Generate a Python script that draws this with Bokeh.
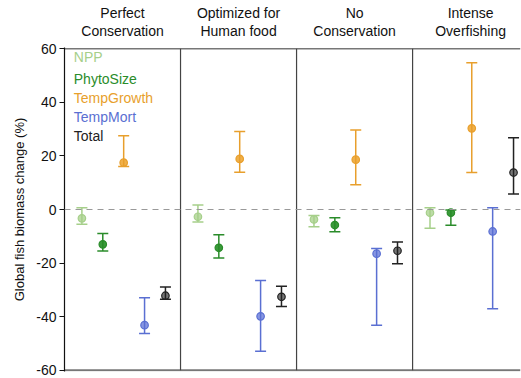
from bokeh.plotting import figure
from bokeh.layouts import column
from bokeh.models import Range1d, ColumnDataSource, Whisker, TeeHead, Span, FixedTicker
from bokeh.core.properties import value
from bokeh.embed import file_html
from bokeh.resources import INLINE

scenarios = [["Perfect", "Conservation"], ["Optimized for", "Human food"],
             ["No", "Conservation"], ["Intense", "Overfishing"]]
series = ["NPP", "PhytoSize", "TempGrowth", "TempMort", "Total"]

# values per series across the 4 scenarios: mean, upper, lower
npp_mid = [-3.3, -2.7, -3.7, -1.2]
npp_hi = [0.7, 1.7, -2.2, 0.7]
npp_lo = [-5.5, -4.7, -6.4, -7.0]

phyto_mid = [-13.0, -14.3, -5.8, -1.2]
phyto_hi = [-9.0, -9.4, -3.1, -0.2]
phyto_lo = [-15.5, -18.1, -8.3, -5.9]

tg_mid = [17.5, 18.9, 18.6, 30.3]
tg_hi = [27.5, 29.1, 29.7, 54.8]
tg_lo = [16.1, 13.9, 9.2, 13.8]

tm_mid = [-43.2, -39.9, -16.5, -8.2]
tm_hi = [-33.0, -26.5, -14.6, 0.7]
tm_lo = [-46.3, -52.9, -43.2, -37.1]

tot_mid = [-32.2, -32.6, -15.4, 13.8]
tot_hi = [-28.9, -28.7, -12.1, 26.8]
tot_lo = [-33.5, -36.2, -20.3, 5.8]

mids = [npp_mid, phyto_mid, tg_mid, tm_mid, tot_mid]
his = [npp_hi, phyto_hi, tg_hi, tm_hi, tot_hi]
los = [npp_lo, phyto_lo, tg_lo, tm_lo, tot_lo]

line_colors = ["#a6cf8a", "#2a8c2a", "#e89f2c", "#5a6fd2", "#222222"]
fill_colors = ["#bcdca6", "#3a9a3a", "#f0b04a", "#8796e2", "#777777"]

yticks = [-60, -40, -20, 0, 20, 40, 60]
ytick_labels = ["-60", "-40", "-20", "0", "20", "40", "60"]
y_min, y_max = -60, 60

FONT = "Liberation Sans"
XR = (0, 3.93)

# ---------- header figure with the panel titles ----------
head = figure(frame_width=456, frame_height=40, output_backend="svg", toolbar_location=None,
              x_range=Range1d(*XR), y_range=Range1d(0, 40),
              min_border_left=64, min_border_right=1, min_border_top=0, min_border_bottom=0)
head.axis.visible = False
head.grid.visible = False
head.outline_line_color = None
head.border_fill_color = "white"
tx, ty, tt = [], [], []
for i, (l1, l2) in enumerate(scenarios):
    tx += [i + 0.5, i + 0.5]
    ty += [28, 10]
    tt += [l1, l2]
head.text(x=tx, y=ty, text=tt, text_font=value(FONT), text_font_size="14px",
          text_align="center", text_baseline="middle", text_color="#111111")

# ---------- main figure ----------
p = figure(frame_width=456, frame_height=324, output_backend="svg", toolbar_location=None,
           x_range=Range1d(*XR), y_range=Range1d(y_min - 0.5, y_max + 0.5),
           min_border_left=64, min_border_top=7, min_border_right=1, min_border_bottom=7)
p.xaxis.visible = False
p.xgrid.visible = False
p.ygrid.visible = False
p.outline_line_color = None
p.background_fill_color = "white"
p.border_fill_color = "white"

ya = p.yaxis[0]
ya.ticker = FixedTicker(ticks=yticks)
ya.major_label_overrides = {t: s for t, s in zip(yticks, ytick_labels)}
ya.minor_tick_line_color = None
ya.major_tick_out = 5
ya.major_tick_in = 0
ya.major_label_standoff = 3
ya.major_label_text_font = FONT
ya.major_label_text_font_size = "14px"
ya.major_label_text_color = "#111111"
ya.axis_line_color = "#111111"
ya.axis_line_width = 1.2
ya.major_tick_line_color = "#111111"
ya.axis_label = "Global fish biomass change (%)"
ya.axis_label_text_font = FONT
ya.axis_label_text_font_style = "normal"
ya.axis_label_text_font_size = "13px"
ya.axis_label_text_color = "#111111"
ya.axis_label_standoff = 6

# frame lines: top and bottom
p.segment(x0=[XR[0], XR[0]], x1=[XR[1], XR[1]], y0=[y_max, y_min], y1=[y_max, y_min],
          line_color="#777777", line_width=[1.5, 2])
# panel separators
seps = list(range(1, len(scenarios)))
p.segment(x0=seps, x1=seps, y0=[y_min] * len(seps), y1=[y_max] * len(seps),
          line_color="#444444", line_width=1.2)
# zero dashed line
p.add_layout(Span(location=0, dimension="width", line_color="#999999",
                  line_dash="6 5", line_width=1.2))

offsets = [0.15 + 0.18 * j for j in range(len(series))]

for j, name in enumerate(series):
    xs = [i + offsets[j] for i in range(len(scenarios))]
    src = ColumnDataSource(dict(x=xs, y=mids[j], hi=his[j], lo=los[j]))
    w = Whisker(base="x", upper="hi", lower="lo", source=src, dimension="height",
                line_color=line_colors[j], line_width=1.5,
                upper_head=TeeHead(size=11, line_color=line_colors[j], line_width=1.5),
                lower_head=TeeHead(size=11, line_color=line_colors[j], line_width=1.5))
    w.level = "glyph"
    p.add_layout(w)
    p.scatter("x", "y", source=src, size=7.5, fill_color=fill_colors[j],
              line_color=line_colors[j], line_width=1.2)

# legend as coloured text
leg_y = [57.0, 48.9, 41.6, 34.6, 27.5]
leg_src = ColumnDataSource(dict(x=[0.08] * len(series), y=leg_y, t=series, c=line_colors))
p.text("x", "y", text="t", source=leg_src, text_color="c", text_font=value(FONT),
       text_font_size="14px", text_baseline="middle", text_align="left")

layout = column(head, p, spacing=0)
open("out.html", "w").write(file_html(layout, INLINE))
